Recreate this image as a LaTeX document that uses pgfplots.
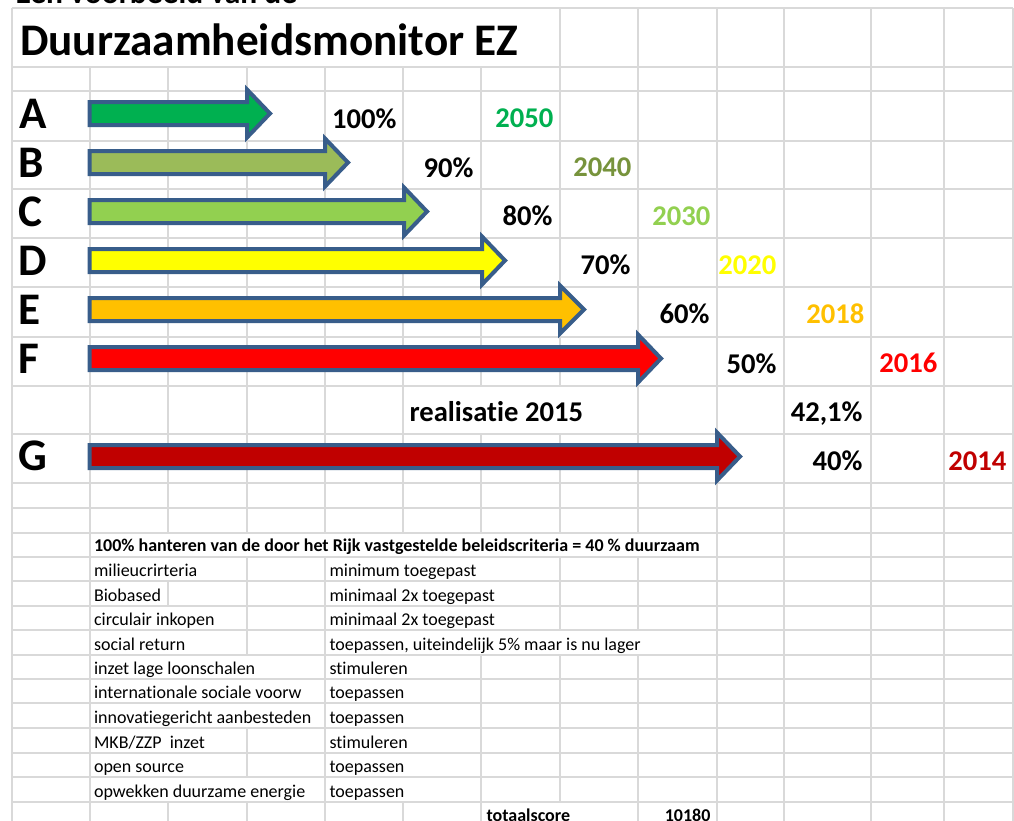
\documentclass[border=0pt]{standalone}
\usepackage{pgfplots}
\pgfplotsset{compat=1.18}
\usepackage{fontspec}
\setmainfont{Carlito}[Ligatures=NoCommon]
\definecolor{gridc}{HTML}{D9D9D9}
\definecolor{outl}{HTML}{385D8A}
\definecolor{cA}{HTML}{00B050}
\definecolor{cB}{HTML}{9BBB59}
\definecolor{cBt}{HTML}{77933C}
\definecolor{cC}{HTML}{92D050}
\definecolor{cD}{HTML}{FFFF00}
\definecolor{cE}{HTML}{FFC000}
\definecolor{cF}{HTML}{FF0000}
\definecolor{cG}{HTML}{C00000}
\newcommand{\fT}{\fontsize{45.2}{50}\selectfont\bfseries}
\newcommand{\fP}{\fontsize{28.6}{32}\selectfont\bfseries}
\newcommand{\fS}{\fontsize{18}{21}\selectfont}
\begin{document}
\begin{tikzpicture}
\path[use as bounding box, clip] (0,0) rectangle (1014pt,820pt);
\begin{axis}[at={(0pt,0pt)}, anchor=south west, width=1014pt, height=820pt,
  scale only axis, xmin=0, xmax=1014, ymin=0, ymax=820, y dir=reverse,
  axis lines=none, ticks=none, clip=false, no markers, unbounded coords=jump,
  every node/.style={inner sep=0pt, outer sep=0pt}]
% horizontal grid lines
\addplot[gridc, line width=1.5pt] coordinates {
(12,8)(1013,8) (nan,nan) (12,67)(1013,67) (nan,nan) (12,91)(1013,91) (nan,nan)
(12,141)(1013,141) (nan,nan) (12,189)(1013,189) (nan,nan) (12,238)(1013,238) (nan,nan)
(12,287)(1013,287) (nan,nan) (12,337)(1013,337) (nan,nan) (12,386)(1013,386) (nan,nan)
(12,434)(1013,434) (nan,nan) (12,483)(1013,483) (nan,nan) (12,508)(1013,508) (nan,nan)
(12,533)(1013,533) (nan,nan) (12,557)(1013,557) (nan,nan) (12,581)(1013,581) (nan,nan)
(12,606)(1013,606) (nan,nan) (12,630)(1013,630) (nan,nan) (12,655)(1013,655) (nan,nan)
(12,679)(1013,679) (nan,nan) (12,703)(1013,703) (nan,nan) (12,728)(1013,728) (nan,nan)
(12,753)(1013,753) (nan,nan) (12,777)(1013,777) (nan,nan) (12,802)(1013,802)
};
% vertical grid lines
\addplot[gridc, line width=1.5pt] coordinates {
(12,8)(12,830) (nan,nan)
(90,67)(90,830) (nan,nan)
(168,67)(168,533) (nan,nan) (168,581)(168,606) (nan,nan) (168,802)(168,830) (nan,nan)
(247,67)(247,533) (nan,nan) (247,557)(247,655) (nan,nan) (247,728)(247,777) (nan,nan) (247,802)(247,830) (nan,nan)
(325,67)(325,533) (nan,nan) (325,557)(325,830) (nan,nan)
(403,67)(403,533) (nan,nan) (403,802)(403,830) (nan,nan)
(481,67)(481,386) (nan,nan) (481,434)(481,533) (nan,nan) (481,655)(481,830) (nan,nan)
(560,8)(560,386) (nan,nan) (560,434)(560,533) (nan,nan) (560,557)(560,630) (nan,nan) (560,655)(560,802) (nan,nan)
(638,8)(638,533) (nan,nan) (638,557)(638,630) (nan,nan) (638,655)(638,830) (nan,nan)
(717,8)(717,830) (nan,nan) (784,8)(784,830) (nan,nan) (871,8)(871,830) (nan,nan)
(944,8)(944,830) (nan,nan) (1013,8)(1013,830)
};
% arrows
\addplot[fill=cA, draw=outl, line width=4pt, miter limit=10] coordinates {(89.5,102)(247,102)(247,89.5)(270,113.5)(247,137.5)(247,125)(89.5,125)} -- cycle;
\addplot[fill=cB, draw=outl, line width=4pt, miter limit=10] coordinates {(89.5,151)(325,151)(325,138.5)(348,162.5)(325,186.5)(325,174)(89.5,174)} -- cycle;
\addplot[fill=cC, draw=outl, line width=4pt, miter limit=10] coordinates {(89.5,200)(404,200)(404,187.5)(427,211.5)(404,235.5)(404,223)(89.5,223)} -- cycle;
\addplot[fill=cD, draw=outl, line width=4pt, miter limit=10] coordinates {(89.5,249)(482,249)(482,236.5)(505,260.5)(482,284.5)(482,272)(89.5,272)} -- cycle;
\addplot[fill=cE, draw=outl, line width=4pt, miter limit=10] coordinates {(89.5,298)(560,298)(560,285.5)(584,309.5)(560,333.5)(560,321)(89.5,321)} -- cycle;
\addplot[fill=cF, draw=outl, line width=4pt, miter limit=10] coordinates {(89.5,347)(638,347)(638,334.5)(661,358.5)(638,382.5)(638,370)(89.5,370)} -- cycle;
\addplot[fill=cG, draw=outl, line width=4pt, miter limit=10] coordinates {(89.5,445)(717,445)(717,432.5)(740,456.5)(717,480.5)(717,468)(89.5,468)} -- cycle;
% texts
\node[anchor=base west, font=\fontsize{31.5}{35}\selectfont\bfseries] at (axis cs:12,3) {Een voorbeeld van de};
\node[anchor=base west, font=\fT] at (axis cs:16.5,55) {Duurzaamheidsmonitor EZ};
\node[anchor=base west, font=\fT] at (axis cs:16,128) {A};
\node[anchor=base west, font=\fT] at (axis cs:15,177) {B};
\node[anchor=base west, font=\fT] at (axis cs:15,226) {C};
\node[anchor=base west, font=\fT] at (axis cs:15,275) {D};
\node[anchor=base west, font=\fT] at (axis cs:15,324) {E};
\node[anchor=base west, font=\fT] at (axis cs:15,373) {F};
\node[anchor=base west, font=\fT] at (axis cs:15,470) {G};
\node[anchor=base east, font=\fP] at (axis cs:400,128) {100\%};
\node[anchor=base east, font=\fP] at (axis cs:477,177) {90\%};
\node[anchor=base east, font=\fP] at (axis cs:556,225) {80\%};
\node[anchor=base east, font=\fP] at (axis cs:634,274) {70\%};
\node[anchor=base east, font=\fP] at (axis cs:713,323) {60\%};
\node[anchor=base east, font=\fP] at (axis cs:780,373) {50\%};
\node[anchor=base east, font=\fP] at (axis cs:866,421) {42,1\%};
\node[anchor=base east, font=\fP] at (axis cs:866,470) {40\%};
\node[anchor=base east, font=\fP, text=cA] at (axis cs:557,127) {2050};
\node[anchor=base east, font=\fP, text=cBt] at (axis cs:635,176) {2040};
\node[anchor=base east, font=\fP, text=cC] at (axis cs:714,225) {2030};
\node[anchor=base east, font=\fP, text=cD] at (axis cs:780,274) {2020};
\node[anchor=base east, font=\fP, text=cE] at (axis cs:868,323) {2018};
\node[anchor=base east, font=\fP, text=cF] at (axis cs:941,372) {2016};
\node[anchor=base east, font=\fP, text=cG] at (axis cs:1010,470) {2014};
\node[anchor=base west, font=\fP] at (axis cs:406,421) {realisatie 2015};
\node[anchor=base west, font=\fS\bfseries] at (axis cs:90.5,551) {100\% hanteren van de door het Rijk vastgestelde beleidscriteria = 40 \% duurzaam};
\node[anchor=base west, font=\fS] at (axis cs:90.5,576.5) {milieucrirteria};
\node[anchor=base west, font=\fS] at (axis cs:90.5,601) {Biobased};
\node[anchor=base west, font=\fS] at (axis cs:90.5,625.5) {circulair inkopen};
\node[anchor=base west, font=\fS] at (axis cs:90.5,650.5) {social return};
\node[anchor=base west, font=\fS] at (axis cs:90.5,674.5) {inzet lage loonschalen};
\node[anchor=base west, font=\fS] at (axis cs:90.5,698.5) {internationale sociale voorw};
\node[anchor=base west, font=\fS] at (axis cs:90.5,723.5) {innovatiegericht aanbesteden};
\node[anchor=base west, font=\fS] at (axis cs:90.5,748.5) {MKB/ZZP\ \ inzet};
\node[anchor=base west, font=\fS] at (axis cs:90.5,772.5) {open source};
\node[anchor=base west, font=\fS] at (axis cs:90.5,797.5) {opwekken duurzame energie};
\node[anchor=base west, font=\fS] at (axis cs:326,576.5) {minimum toegepast};
\node[anchor=base west, font=\fS] at (axis cs:326,601) {minimaal 2x toegepast};
\node[anchor=base west, font=\fS] at (axis cs:326,625.5) {minimaal 2x toegepast};
\node[anchor=base west, font=\fS] at (axis cs:326,650.5) {toepassen, uiteindelijk 5\% maar is nu lager};
\node[anchor=base west, font=\fS] at (axis cs:326,674.5) {stimuleren};
\node[anchor=base west, font=\fS] at (axis cs:326,698.5) {toepassen};
\node[anchor=base west, font=\fS] at (axis cs:326,723.5) {toepassen};
\node[anchor=base west, font=\fS] at (axis cs:326,748.5) {stimuleren};
\node[anchor=base west, font=\fS] at (axis cs:326,772.5) {toepassen};
\node[anchor=base west, font=\fS] at (axis cs:326,797.5) {toepassen};
\node[anchor=base west, font=\fS\bfseries] at (axis cs:483,821) {totaalscore};
\node[anchor=base east, font=\fS\bfseries] at (axis cs:714,821) {10180};
\end{axis}
\end{tikzpicture}
\end{document}
